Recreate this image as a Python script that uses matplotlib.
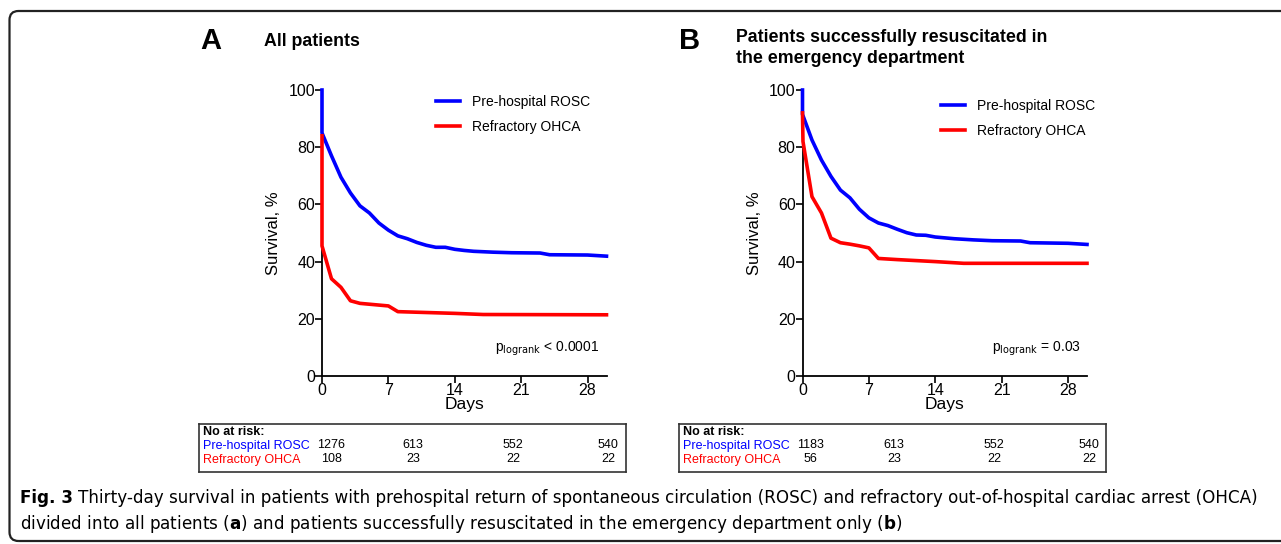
import numpy as np
import matplotlib
matplotlib.use("Agg")
import matplotlib.pyplot as plt
from matplotlib.patches import FancyBboxPatch

plt.rcParams['font.family'] = ['Liberation Sans', 'DejaVu Sans']

BLUE = '#0000ff'
RED = '#ff0000'

# survival curves (days, %)
a_rosc_days = [0, 0, 1, 2, 3, 4, 5, 6, 7, 8, 9, 10, 11, 12, 13, 14, 15, 16, 18, 20, 23, 24, 28, 30]
a_rosc_surv = [100, 85, 77, 69.5, 64, 59.5, 57, 53.5, 51, 49, 48, 46.7, 45.7, 45, 45, 44.3, 43.9, 43.6, 43.3, 43.1, 43, 42.4, 42.3, 41.9]
a_ohca_days = [0, 0, 1, 2, 3, 4, 5, 6, 7, 8, 10, 14, 17, 30]
a_ohca_surv = [84, 45.5, 34, 31, 26.3, 25.4, 25.1, 24.8, 24.5, 22.5, 22.3, 21.9, 21.5, 21.4]

b_rosc_days = [0, 0, 1, 2, 3, 4, 5, 6, 7, 8, 9, 10, 11, 12, 13, 14, 16, 18, 20, 23, 24, 28, 30]
b_rosc_surv = [100, 91.5, 82.5, 75.5, 69.8, 65, 62.3, 58.3, 55.3, 53.5, 52.6, 51.3, 50.1, 49.3, 49.2, 48.6, 48, 47.6, 47.3, 47.2, 46.6, 46.4, 46.0]
b_ohca_days = [0, 0.05, 1, 2, 3, 4, 5, 6, 7, 8, 10, 14, 17, 30]
b_ohca_surv = [92, 82, 62.7, 57, 48.2, 46.6, 46.1, 45.5, 44.8, 41.1, 40.7, 40.0, 39.4, 39.4]

# numbers at risk
a_risk_rosc = ['1276', '613', '552', '540']
a_risk_ohca = ['108', '23', '22', '22']
b_risk_rosc = ['1183', '613', '552', '540']
b_risk_ohca = ['56', '23', '22', '22']

W, H = 1281, 544
fig = plt.figure(figsize=(W / 100, H / 100), dpi=100)

# rounded frame of the figure box
frame = FancyBboxPatch((0.095, 0.03), 13.2, 5.3, boxstyle="round,pad=0,rounding_size=0.09",
                       transform=fig.dpi_scale_trans, fill=False, ec='#222222', lw=1.6)
fig.patches.append(frame)


def px(x, y):
    return x / W, 1 - y / H


def panel(x0, letter, letter_x, title, title_x, title_y, rosc, ohca, ptext, p_x, leg_x, leg_y,
          risk_x0, risk_cols, risk_rosc, risk_ohca):
    ax = fig.add_axes([x0 / W, 1 - 376 / H, 284.5 / W, 286 / H])
    ax.plot(rosc[0], rosc[1], color=BLUE, lw=2.6, label='Pre-hospital ROSC',
            solid_joinstyle='round', clip_on=False, zorder=3)
    ax.plot(ohca[0], ohca[1], color=RED, lw=2.6, label='Refractory OHCA',
            solid_joinstyle='round', clip_on=False, zorder=3)
    ax.set_xlim(0, 30)
    ax.set_ylim(0, 100)
    ax.set_xticks([0, 7, 14, 21, 28])
    ax.set_yticks([0, 20, 40, 60, 80, 100])
    for s in ['top', 'right']:
        ax.spines[s].set_visible(False)
    for s in ['left', 'bottom']:
        ax.spines[s].set_linewidth(1.3)
    ax.tick_params(length=5, width=1.2, labelsize=11.5, pad=0)
    ax.set_xlabel('Days', fontsize=12.5, labelpad=-1)
    ax.set_ylabel('Survival, %', fontsize=12, labelpad=5)
    ax.legend(frameon=False, fontsize=10, handlelength=1.75, handletextpad=0.85,
              labelspacing=0.8, loc='upper left',
              bbox_to_anchor=(leg_x / W, 1 - leg_y / H), bbox_transform=fig.transFigure,
              borderaxespad=0, borderpad=0)
    fig.text(*px(p_x, 349), ptext, fontsize=10, va='center', ha='left')

    fig.text(*px(letter_x, 41), letter, fontsize=21, fontweight='bold', va='center', ha='left')
    fig.text(*px(title_x, title_y), title, fontsize=12.8, fontweight='bold',
             va='center', ha='left', linespacing=1.35)

    # number-at-risk table
    tab = fig.add_axes([risk_x0 / W, 1 - 472 / H, 427 / W, 48 / H])
    tab.set_xlim(0, 427)
    tab.set_ylim(48, 0)
    tab.set_xticks([])
    tab.set_yticks([])
    for s in tab.spines.values():
        s.set_linewidth(1.2)
        s.set_color('#333333')
    tab.text(4, 8, 'No at risk:', fontsize=9, fontweight='bold', va='center', ha='left')
    tab.text(4, 21.5, 'Pre-hospital ROSC', fontsize=9, color=BLUE, va='center', ha='left')
    tab.text(4, 35.5, 'Refractory OHCA', fontsize=9, color=RED, va='center', ha='left')
    for cx, r1, r2 in zip(risk_cols, risk_rosc, risk_ohca):
        tab.text(cx - risk_x0, 21.5, r1, fontsize=9, va='center', ha='center')
        tab.text(cx - risk_x0, 35.5, r2, fontsize=9, va='center', ha='center')
    return ax


panel(322, 'A', 200, 'All patients', 264, 41, (a_rosc_days, a_rosc_surv), (a_ohca_days, a_ohca_surv),
      r'p$_{\mathrm{logrank}}$ < 0.0001', 495, 436, 95, 199, [331, 413, 513, 608], a_risk_rosc, a_risk_ohca)
panel(802.5, 'B', 679, 'Patients successfully resuscitated in\nthe emergency department', 736, 48,
      (b_rosc_days, b_rosc_surv), (b_ohca_days, b_ohca_surv),
      r'p$_{\mathrm{logrank}}$ = 0.03', 992, 941, 99, 679, [810, 894, 994, 1089], b_risk_rosc, b_risk_ohca)

# caption: bold "Fig. 3" followed by the plain text
cap_size = 12.1
lead = fig.text(20 / W, 1 - 498 / H, 'Fig. 3', fontsize=cap_size, fontweight='bold',
                family='DejaVu Sans', va='center', ha='left')
fig.canvas.draw()
lead_w = lead.get_window_extent(fig.canvas.get_renderer()).width
fig.text((20 + lead_w + 5) / W, 1 - 498 / H,
         'Thirty-day survival in patients with prehospital return of spontaneous circulation (ROSC) '
         'and refractory out-of-hospital cardiac arrest (OHCA)',
         fontsize=cap_size, family='DejaVu Sans', va='center', ha='left')
fig.text(20 / W, 1 - 524 / H,
         r'divided into all patients ($\mathbf{a}$) and patients successfully resuscitated in the '
         r'emergency department only ($\mathbf{b}$)',
         fontsize=cap_size, family='DejaVu Sans', va='center', ha='left')

fig.savefig('out.png', dpi=100)
